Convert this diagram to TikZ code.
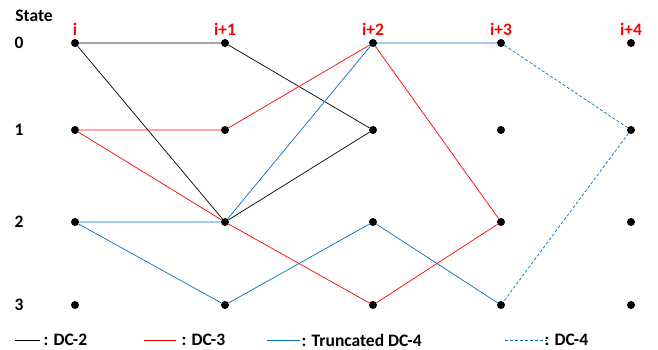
\documentclass[tikz,border=0pt]{standalone}
\usepackage{fontspec}
\setmainfont{Carlito}
\usetikzlibrary{positioning}
\definecolor{dcblue}{RGB}{0,112,192}
\definecolor{dcred}{RGB}{255,0,0}

\begin{document}
\begin{tikzpicture}[x=1pt, y=-1pt, font=\bfseries\fontsize{17.5}{20}\selectfont,
  dot/.style={circle, fill=black, inner sep=0pt, minimum size=8pt},
  dctwo/.style={black, line width=0.7pt},
  dcthree/.style={dcred, line width=0.7pt},
  dctrunc/.style={dcblue, line width=0.7pt},
  dcfour/.style={dcblue, line width=0.7pt, dashed, dash pattern=on 3pt off 2pt}]

  \useasboundingbox (0,0) rectangle (658,350);

  % States
  \node (state) at (34,16) {State};
  \foreach \r/\y in {0/43,1/130,2/222,3/305} {
    \node (s\r) at (19,\y) {\r};
  }

  % Trellis of dots
  \foreach \c/\x/\lab in {0/75/i,1/225/i+1,2/373/i+2,3/501/i+3,4/631/i+4} {
    \node[dcred] (t\c) at (\x,29) {\lab};
    \foreach \r/\y in {0/43,1/130,2/222,3/305} {
      \node[dot] (n\c\r) at (\x,\y) {};
    }
  }

  % DC-2
  \draw[dctwo] (n00) -- (n10) -- (n21);
  \draw[dctwo] (n00) -- (n12) -- (n21);

  % DC-3
  \draw[dcthree] (n01) -- (n11) -- (n20);
  \draw[dcthree] (n01) -- (n12) -- (n23) -- (n32) -- (n20);

  % Truncated DC-4
  \draw[dctrunc] (n02) -- (n12) -- (n20) -- (n30);
  \draw[dctrunc] (n02) -- (n13) -- (n22) -- (n33);

  % DC-4
  \draw[dcfour] (n30) -- (n41) -- (n33);

  % Legend
  \coordinate (la) at (15,340);  \coordinate (lb) at (40,340);
  \draw[dctwo] (la) -- (lb);
  \node[right=0pt of lb] (ltwo) {: DC-2};
  \coordinate (lc) at (144,340); \coordinate (ld) at (176,340);
  \draw[dcthree] (lc) -- (ld);
  \node[right=2pt of ld] (lthree) {: DC-3};
  \coordinate (le) at (267,340); \coordinate (lf) at (300,340);
  \draw[dctrunc] (le) -- (lf);
  \node[right=-2pt of lf] (ltrunc) {: Truncated DC-4};
  \coordinate (lg) at (505,340); \coordinate (lh) at (547,340);
  \draw[dcfour] (lg) -- (lh);
  \node[right=-6pt of lh] (lfour) {: DC-4};

\end{tikzpicture}
\end{document}
